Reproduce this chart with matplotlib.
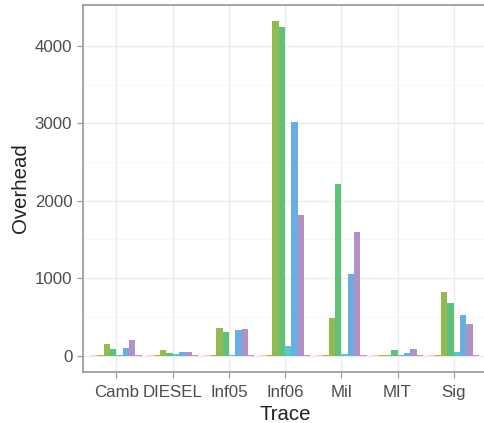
import numpy as np
import matplotlib.pyplot as plt

plt.rcParams['font.family'] = ['Liberation Sans', 'DejaVu Sans']

traces = ['Camb', 'DIESEL', 'Inf05', 'Inf06', 'Mil', 'MIT', 'Sig']
series = ['s1', 's2', 's3', 's4', 's5', 's6', 's7', 's8']

# overhead per trace, one list per series
s1 = [2, 2, 2, 2, 2, 2, 2]
s2 = [4, 9, 4, 4, 4, 4, 4]
s3 = [155, 74, 357, 4315, 486, 9, 818]
s4 = [86, 35, 306, 4241, 2215, 74, 677]
s5 = [9, 22, 9, 125, 22, 3, 48]
s6 = [99, 48, 332, 3015, 1052, 35, 525]
s7 = [203, 48, 345, 1815, 1596, 87, 409]
s8 = [3, 9, 3, 3, 3, 3, 3]
values = [s1, s2, s3, s4, s5, s6, s7, s8]

colors = ['#F3CFD3', '#D9A03F', '#93B956', '#62C07B', '#5BC6CC',
          '#6AAEE1', '#B192C7', '#E683B9']

fig = plt.figure(figsize=(4.84, 4.23), dpi=100)
ax = fig.add_axes([0.1709, 0.1199, 0.8363, 0.8690])

x = np.arange(len(traces))
n = len(series)
w = 0.9 / n
for i, (name, vals) in enumerate(zip(series, values)):
    ax.bar(x - 0.45 + w * (i + 0.5), vals, width=w, color=colors[i],
           label=name, linewidth=0, zorder=3)

ymax = max(max(v) for v in values)
pad = 0.05 * ymax
ax.set_xlim(-0.6, len(traces) - 0.4)
ax.set_ylim(-pad, ymax + pad)

ax.set_xticks(x)
ax.set_xticklabels(traces)
ax.set_yticks([0, 1000, 2000, 3000, 4000])
ax.set_yticks([500, 1500, 2500, 3500], minor=True)

ax.grid(which='major', color='#EBEBEB', linewidth=0.9, zorder=0)
ax.grid(which='minor', axis='y', color='#F5F5F5', linewidth=0.6, zorder=0)
ax.set_axisbelow(True)

for s in ax.spines.values():
    s.set_color('#9E9E9E')
    s.set_linewidth(1.3)

ax.tick_params(axis='both', which='major', length=4, width=0.9,
               color='#9E9E9E', labelsize=12.2, labelcolor='#4D4D4D')
ax.tick_params(axis='x', pad=5)
ax.tick_params(axis='y', pad=3.5)
ax.tick_params(axis='y', which='minor', length=0)

ax.set_xlabel('Trace', fontsize=14.7, color='#222222', labelpad=4)
ax.set_ylabel('Overhead', fontsize=14.7, color='#222222', labelpad=3.5)

fig.savefig('out.png', dpi=100)
